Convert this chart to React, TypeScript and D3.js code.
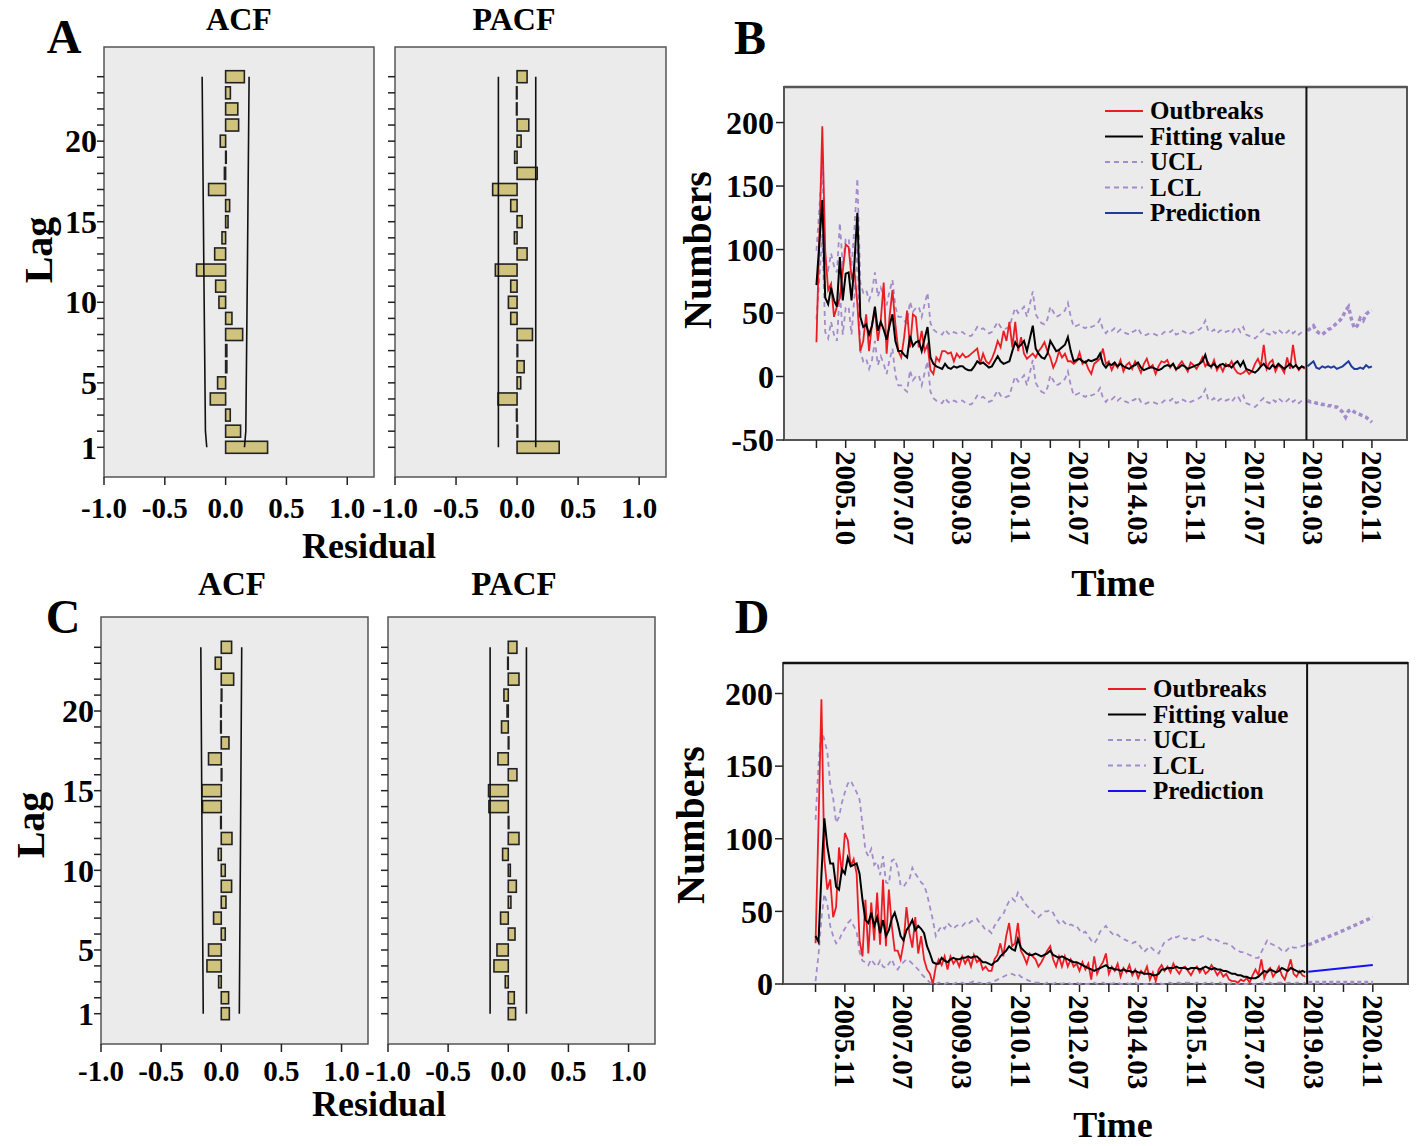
import React from "react";
import * as d3 from "d3";

const FONT = "'Liberation Serif','Times New Roman',serif";

// ---------------- ACF / PACF data (lag 1..24) ----------------
const lags = [1, 2, 3, 4, 5, 6, 7, 8, 9, 10, 11, 12, 13, 14, 15, 16, 17, 18, 19, 20, 21, 22, 23, 24];
const lagLabels = [1, 5, 10, 15, 20];
const residTicks = [-1, -0.5, 0, 0.5, 1];

const acfA = [0.345, 0.123, 0.038, -0.126, -0.066, 0.01, 0.01, 0.14, 0.052, -0.055, -0.082, -0.239, -0.09, -0.03, 0.02, 0.033, -0.14, -0.01, 0.005, -0.044, 0.107, 0.1, 0.039, 0.154];
const pacfA = [0.345, 0.005, -0.005, -0.156, 0.03, 0.058, 0.005, 0.126, -0.052, -0.071, -0.052, -0.178, 0.082, -0.022, 0.041, -0.052, -0.2, 0.165, -0.02, 0.033, 0.096, -0.005, -0.005, 0.082];
const acfC = [0.067, 0.061, -0.022, -0.119, -0.106, 0.033, -0.064, 0.039, 0.086, 0.033, -0.025, 0.089, -0.005, -0.156, -0.161, 0.005, -0.106, 0.064, -0.005, -0.005, 0.005, 0.103, -0.05, 0.086];
const pacfC = [0.061, 0.05, -0.025, -0.119, -0.094, 0.056, -0.064, 0.022, 0.067, 0.017, -0.047, 0.089, 0.005, -0.161, -0.164, 0.072, -0.086, 0.005, -0.056, -0.01, -0.036, 0.089, -0.005, 0.072];

const acfBoundLagsA = [1, 2, 12, 24];
const acfBoundA = [0.155, 0.166, 0.179, 0.193];
const pacfBoundLagsA = [1, 24];
const pacfBoundA = [0.153, 0.153];
const acfBoundLagsC = [1, 12, 24];
const acfBoundC = [0.15, 0.16, 0.17];
const pacfBoundLagsC = [1, 24];
const pacfBoundC = [0.151, 0.151];

// ---------------- Time series (month index 0 = 2005.01) ----------------
const obsIdx = d3.range(0, 168);
const fcIdxB = d3.range(168, 191);
const xTickIdx = d3.range(0, 200, 10);
const xLabelIdx = [10, 30, 50, 70, 90, 110, 130, 150, 170, 190];
const xLabelsB = ["2005.10", "2007.07", "2009.03", "2010.11", "2012.07", "2014.03", "2015.11", "2017.07", "2019.03", "2020.11"];
const xLabelsD = ["2005.11", "2007.07", "2009.03", "2010.11", "2012.07", "2014.03", "2015.11", "2017.07", "2019.03", "2020.11"];
const yTicksB = [-50, 0, 50, 100, 150, 200];
const yTicksD = [0, 50, 100, 150, 200];
const sepIdx = 167.6;

const bObs = [27,110,197,99,68,73,47,55,62,83,104,102,78,83,57,20,28,49,20,41,52,28,44,74,18,47,68,41,20,15,31,52,23,49,47,23,36,20,25,5,
  2,15,12,20,20,18,19,12,18,15,18,15,16,18,20,22,10,18,12,10,
  14,20,28,23,36,28,43,23,43,20,
  31,18,14,16,18,15,20,23,27,20,15,7,12,20,15,18,12,12,10,12,19,10,12,6,2,10,12,14,22,10,
  12,5,10,7,13,4,9,11,6,12,8,3,10,14,7,9,2,8,12,11,13,7,10,5,9,12,8,4,11,9,6,10,15,8,11,7,13,5,9,4,10,8,12,6,3,2,3,5,2,4,
  10,14,8,25,6,11,13,4,9,7,3,15,6,25,9,5,8,6];
const bFit = [72,105,139,62,57,70,60,55,94,60,81,82,60,90,129,47,39,41,33,40,55,36,43,37,29,40,49,28,20,20,17,15,32,24,27,28,20,30,39,15,
  10,8,7,6,10,7,6,8,7,8,8,6,5,5,8,12,10,11,9,7,
  8,12,16,12,10,11,12,20,27,23,25,28,20,30,40,22,18,15,14,18,28,24,20,21,23,25,31,20,12,13,14,12,11,13,12,13,14,18,10,7,
  10,9,11,8,10,8,7,6,8,9,11,7,5,6,7,7,6,5,6,8,9,8,10,6,7,9,8,6,7,8,9,10,12,17,9,8,10,7,9,10,8,9,7,10,12,8,12,6,5,4,3,5,8,10,7,6,9,7,10,8,6,8,10,7,9,6,8,7];
const bUcl = [99,132,166,89,84,97,87,82,121,87,108,109,87,117,156,74,66,68,60,67,82,63,70,64,56,67,76,55,47,47,44,42,59,51,54,55,47,57,66,42,
  37,35,34,33,37,34,33,35,34,35,35,33,32,32,35,39,37,38,36,34,
  35,39,43,39,37,38,39,47,54,50,52,55,47,57,67,49,45,42,41,45,55,51,47,48,50,52,58,47,39,40,41,39,38,40,39,40,41,45,37,34,
  37,36,38,35,37,35,34,33,35,36,38,34,32,33,34,34,33,32,33,35,36,35,37,33,34,36,35,33,34,35,36,37,39,44,36,35,37,34,36,37,35,36,34,37,39,35,39,33,32,31,30,32,35,37,34,33,36,34,37,35,33,35,37,34,36,33,35,34];
const bLcl = [45,78,112,35,30,43,33,28,67,33,54,55,33,63,102,20,12,14,6,13,28,9,16,10,2,13,22,1,-7,-7,-10,-12,5,-3,0,1,-7,3,12,-12,
  -17,-19,-20,-21,-17,-20,-21,-19,-20,-19,-19,-21,-22,-22,-19,-15,-17,-16,-18,-20,
  -19,-15,-11,-15,-17,-16,-15,-7,0,-4,-2,1,-7,3,13,-5,-9,-12,-13,-9,1,-3,-7,-6,-4,-2,4,-7,-15,-14,-13,-15,-16,-14,-15,-14,-13,-9,-17,-20,
  -17,-18,-16,-19,-17,-19,-20,-21,-19,-18,-16,-20,-22,-21,-20,-20,-21,-22,-21,-19,-18,-19,-17,-21,-20,-18,-19,-21,-20,-19,-18,-17,-15,-10,-18,-19,-17,-20,-18,-17,-19,-18,-20,-17,-15,-19,-15,-21,-22,-23,-24,-22,-19,-17,-20,-21,-18,-20,-17,-19,-21,-19,-17,-20,-18,-21,-19,-20];
const bPred = [8,10,12,7,6,8,7,8,7,8,6,7,8,10,12,8,6,6,7,6,9,7,8];
const bUclF = [36,38,40,36,34,33,35,37,38,40,42,44,47,52,55,45,38,40,46,44,49,51,52];
const bLclF = [-19,-20,-20,-21,-21,-22,-22,-23,-23,-24,-24,-26,-28,-32,-27,-26,-28,-29,-30,-31,-32,-34,-36];

const dObs = [28,110,196,86,65,72,46,53,94,76,104,99,81,86,76,30,19,58,21,56,30,63,27,72,26,65,40,23,23,17,28,53,35,25,46,21,33,17,10,7,
  0,12,17,13,19,10,19,14,17,12,19,14,18,12,20,15,17,10,12,9,
  9,17,20,28,19,33,42,26,28,42,23,19,14,21,19,17,12,15,19,23,26,17,12,19,12,19,12,17,12,14,9,15,10,14,3,19,7,12,15,21,
  7,12,9,14,5,11,8,13,6,10,4,9,7,12,3,8,2,10,13,9,12,8,14,10,7,11,12,9,6,10,12,8,11,7,9,13,10,6,9,5,7,3,2,2,1,3,2,4,1,6,
  10,6,17,4,9,11,5,8,12,6,3,10,17,7,5,9,6,5];
const dFit = [33,29,75,114,95,83,83,67,65,79,76,87,81,82,83,76,58,44,42,49,40,46,35,44,33,37,45,49,42,33,30,37,40,44,37,40,38,35,26,21,
  15,14,14,18,16,15,17,18,17,17,18,18,19,18,19,19,17,15,15,14,13,15,16,19,21,23,26,24,23,31,25,23,21,20,20,21,20,19,20,21,23,20,19,18,19,18,17,16,15,15,14,13,12,11,10,9,10,11,12,13,
  11,11,10,10,9,10,9,9,8,9,8,8,7,7,7,6,6,7,10,10,11,11,11,12,11,11,11,10,11,11,11,10,11,12,11,10,11,10,10,9,9,8,7,7,6,6,5,5,4,4,4,5,7,9,8,10,9,8,9,11,10,9,11,10,9,8,9,8];
const dUcl = [113,150,176,168,160,138,128,111,115,125,132,138,140,136,132,127,110,92,88,93,82,84,75,88,70,69,85,86,80,68,67,70,72,80,76,73,70,68,62,53,
  44,33,37,40,38,42,40,38,40,41,40,42,41,43,44,45,42,40,37,37,35,40,43,46,48,53,57,59,57,63,60,57,54,52,50,48,46,48,50,50,51,49,45,42,44,42,40,41,40,40,37,35,36,33,30,28,31,36,38,40,
  37,35,33,34,32,31,30,29,28,29,28,25,22,24,26,24,22,21,25,29,30,31,33,32,33,32,31,32,31,30,31,32,33,33,31,30,31,30,29,28,28,27,26,24,23,22,22,21,20,19,18,18,22,26,30,28,27,26,25,23,22,24,26,25,25,26,26,27];
const dLcl = [2,20,45,62,55,40,33,28,30,35,38,42,44,40,36,22,16,15,13,17,14,12,16,12,11,14,17,12,10,13,15,17,16,14,12,10,7,5,3,1,
  0,0,1,1,0,1,1,0,1,1,1,0,1,1,2,1,1,0,0,1,1,2,3,4,5,6,7,7,6,7,5,4,3,2,2,1,1,1,0,1,1,0,1,1,0,1,1,0,0,1,0,1,0,0,1,1,0,1,1,0,
  1,0,1,1,0,0,1,0,1,1,0,1,0,0,1,0,1,1,0,0,1,1,0,1,1,0,1,1,1,0,1,1,0,1,1,1,0,1,1,0,1,0,1,0,0,1,0,0,1,0,0,1,1,0,1,1,0,1,1,1,0,1,1,0,1,1,0,1];
const dPredIdx = [168, 190];
const dPred = [8.5, 13];
const dUclFIdx = [168, 179, 190];
const dUclF = [27, 36, 46];
const dLclFIdx = [168, 190];
const dLclF = [1, 1];

const RED = "#ec1c24";
const PURPLE = "#a48ccb";
const BAR_FILL = "#cfc37e";

type CorrProps = {
  x0: number; x1: number; y0: number; y1: number; lagLo: number; lagHi: number;
  values: number[]; bLags: number[]; bVals: number[]; showLagLabels: boolean; labelDy: number;
};

const fmtResid = (t: number) => t.toFixed(1);

function Corr({ x0, x1, y0, y1, lagLo, lagHi, values, bLags, bVals, showLagLabels, labelDy }: CorrProps) {
  const x = d3.scaleLinear().domain([-1, 1.22]).range([x0, x1]);
  const y = d3.scaleLinear().domain([1, 24]).range([lagLo, lagHi]);
  const line = d3.line<[number, number]>().x((d) => x(d[1])).y((d) => y(d[0]));
  const upper = bLags.map((l, i) => [l, bVals[i]] as [number, number]);
  const lower = bLags.map((l, i) => [l, -bVals[i]] as [number, number]);
  const bh = 12;
  return (
    <g>
      <rect x={x0} y={y0} width={x1 - x0} height={y1 - y0} fill="#ebebeb" stroke="#555" strokeWidth={1.5} />
      {lags.map((l) => (
        <line key={"lt" + l} x1={x0 - 7} x2={x0} y1={y(l)} y2={y(l)} stroke="#222" strokeWidth={1.5} />
      ))}
      {showLagLabels &&
        lagLabels.map((l) => (
          <text key={"ll" + l} x={x0 - 7} y={y(l)} dy="0.35em" textAnchor="end" fontSize={32}>
            {l}
          </text>
        ))}
      {residTicks.map((t) => (
        <line key={"xt" + t} x1={x(t)} x2={x(t)} y1={y1} y2={y1 + 8} stroke="#222" strokeWidth={1.5} />
      ))}
      {residTicks.map((t) => (
        <text key={"xl" + t} x={x(t)} y={y1 + labelDy} textAnchor="middle" fontSize={29}>
          {fmtResid(t)}
        </text>
      ))}
      {values.map((v, i) => (
        <rect
          key={"b" + i}
          x={Math.min(x(0), x(v))}
          y={y(lags[i]) - bh / 2}
          width={Math.abs(x(v) - x(0))}
          height={bh}
          fill={BAR_FILL}
          stroke="#222"
          strokeWidth={1.6}
        />
      ))}
      <path d={line(upper) || ""} fill="none" stroke="#111" strokeWidth={1.6} />
      <path d={line(lower) || ""} fill="none" stroke="#111" strokeWidth={1.6} />
    </g>
  );
}

type Series = { idx: number[]; val: number[] };
type TimeProps = {
  x0: number; x1: number; y0: number; y1: number; yDom: [number, number]; yTicks: number[];
  obs: Series; fit: Series; ucl: Series; lcl: Series; pred: Series; uclF: Series; lclF: Series;
  xLabels: string[]; predColor: string; legX: number; legY: number; borderTop: string;
};

function TimePanel(p: TimeProps) {
  const x = d3.scaleLinear().domain([-11.1, 202]).range([p.x0, p.x1]);
  const y = d3.scaleLinear().domain(p.yDom).range([p.y1, p.y0]);
  const path = (s: Series) =>
    d3.line<number>().x((_, i) => x(s.idx[i])).y((d) => y(d))(s.val) || "";
  const legend = [
    { label: "Outbreaks", color: RED, dash: undefined as string | undefined },
    { label: "Fitting value", color: "#000", dash: undefined },
    { label: "UCL", color: PURPLE, dash: "5,4" },
    { label: "LCL", color: PURPLE, dash: "5,4" },
    { label: "Prediction", color: p.predColor, dash: undefined },
  ];
  return (
    <g>
      <rect x={p.x0} y={p.y0} width={p.x1 - p.x0} height={p.y1 - p.y0} fill="#ebebeb" stroke="#555" strokeWidth={2} />
      <line x1={p.x0} x2={p.x1} y1={p.y0} y2={p.y0} stroke={p.borderTop} strokeWidth={2.5} />
      {p.yTicks.map((t) => (
        <g key={"yt" + t}>
          <line x1={p.x0 - 8} x2={p.x0} y1={y(t)} y2={y(t)} stroke="#222" strokeWidth={1.5} />
          <text x={p.x0 - 10} y={y(t)} dy="0.35em" textAnchor="end" fontSize={32}>
            {t}
          </text>
        </g>
      ))}
      {xTickIdx.map((t) => (
        <line key={"xt" + t} x1={x(t)} x2={x(t)} y1={p.y1} y2={p.y1 + 8} stroke="#222" strokeWidth={1.5} />
      ))}
      {xLabelIdx.map((t, i) => (
        <text
          key={"xl" + t}
          transform={`translate(${x(t)},${p.y1 + 11}) rotate(90)`}
          dy="0.35em"
          textAnchor="start"
          fontSize={29}
        >
          {p.xLabels[i]}
        </text>
      ))}
      <path d={path(p.ucl)} fill="none" stroke={PURPLE} strokeWidth={1.8} strokeDasharray="5,4" />
      <path d={path(p.lcl)} fill="none" stroke={PURPLE} strokeWidth={1.8} strokeDasharray="5,4" />
      <path d={path(p.uclF)} fill="none" stroke={PURPLE} strokeWidth={3.5} strokeDasharray="4,3" />
      <path d={path(p.lclF)} fill="none" stroke={PURPLE} strokeWidth={3.5} strokeDasharray="4,3" />
      <path d={path(p.obs)} fill="none" stroke={RED} strokeWidth={1.8} />
      <path d={path(p.fit)} fill="none" stroke="#000" strokeWidth={2} />
      <path d={path(p.pred)} fill="none" stroke={p.predColor} strokeWidth={2} />
      <line x1={x(sepIdx)} x2={x(sepIdx)} y1={p.y0} y2={p.y1} stroke="#111" strokeWidth={2} />
      {legend.map((l, i) => (
        <g key={l.label}>
          <line
            x1={p.legX}
            x2={p.legX + 38}
            y1={p.legY + i * 25.5}
            y2={p.legY + i * 25.5}
            stroke={l.color}
            strokeWidth={2.2}
            strokeDasharray={l.dash}
          />
          <text x={p.legX + 45} y={p.legY + i * 25.5} dy="0.33em" fontSize={25}>
            {l.label}
          </text>
        </g>
      ))}
    </g>
  );
}

export default function App() {
  return (
    <svg
      width={1416}
      height={1146}
      style={{ position: "absolute", left: 0, top: 0, display: "block" }}
      fontFamily={FONT}
      fontWeight="bold"
    >
      <rect width={1416} height={1146} fill="#fff" />

      {/* Panel A */}
      <text x={64} y={53} fontSize={48} textAnchor="middle">A</text>
      <text x={239} y={30} fontSize={32} textAnchor="middle">ACF</text>
      <text x={514} y={30} fontSize={32} textAnchor="middle">PACF</text>
      <Corr x0={104} x1={374} y0={47} y1={477} lagLo={447.3} lagHi={76.7} values={acfA} bLags={acfBoundLagsA} bVals={acfBoundA} showLagLabels={true} labelDy={41} />
      <Corr x0={395} x1={666} y0={47} y1={477} lagLo={447.3} lagHi={76.7} values={pacfA} bLags={pacfBoundLagsA} bVals={pacfBoundA} showLagLabels={false} labelDy={41} />
      <text transform="translate(38,250) rotate(-90)" dy="0.35em" textAnchor="middle" fontSize={40}>Lag</text>
      <text x={369} y={558} textAnchor="middle" fontSize={36}>Residual</text>

      {/* Panel C */}
      <text x={63} y={633} fontSize={48} textAnchor="middle">C</text>
      <text x={232} y={595} fontSize={33} textAnchor="middle">ACF</text>
      <text x={514} y={595} fontSize={33} textAnchor="middle">PACF</text>
      <Corr x0={101} x1={368} y0={617} y1={1044} lagLo={1013.7} lagHi={647.3} values={acfC} bLags={acfBoundLagsC} bVals={acfBoundC} showLagLabels={true} labelDy={37} />
      <Corr x0={388} x1={655} y0={617} y1={1044} lagLo={1013.7} lagHi={647.3} values={pacfC} bLags={pacfBoundLagsC} bVals={pacfBoundC} showLagLabels={false} labelDy={37} />
      <text transform="translate(30,825) rotate(-90)" dy="0.35em" textAnchor="middle" fontSize={40}>Lag</text>
      <text x={379} y={1116} textAnchor="middle" fontSize={36}>Residual</text>

      {/* Panel B */}
      <text x={750} y={54} fontSize={48} textAnchor="middle">B</text>
      <TimePanel
        x0={784} x1={1407} y0={87} y1={440} yDom={[-50, 228]} yTicks={yTicksB}
        obs={{ idx: obsIdx, val: bObs }} fit={{ idx: obsIdx, val: bFit }}
        ucl={{ idx: obsIdx, val: bUcl }} lcl={{ idx: obsIdx, val: bLcl }}
        pred={{ idx: fcIdxB, val: bPred }} uclF={{ idx: fcIdxB, val: bUclF }} lclF={{ idx: fcIdxB, val: bLclF }}
        xLabels={xLabelsB} predColor="#1f3c9a" legX={1105} legY={111} borderTop="#555"
      />
      <text transform="translate(697,250) rotate(-90)" dy="0.35em" textAnchor="middle" fontSize={40}>Numbers</text>
      <text x={1113} y={596} textAnchor="middle" fontSize={38}>Time</text>

      {/* Panel D */}
      <text x={752} y={633} fontSize={48} textAnchor="middle">D</text>
      <TimePanel
        x0={783} x1={1408} y0={663} y1={984} yDom={[0, 221]} yTicks={yTicksD}
        obs={{ idx: obsIdx, val: dObs }} fit={{ idx: obsIdx, val: dFit }}
        ucl={{ idx: obsIdx, val: dUcl }} lcl={{ idx: obsIdx, val: dLcl }}
        pred={{ idx: dPredIdx, val: dPred }} uclF={{ idx: dUclFIdx, val: dUclF }} lclF={{ idx: dLclFIdx, val: dLclF }}
        xLabels={xLabelsD} predColor="#1414f0" legX={1108} legY={689} borderTop="#111"
      />
      <text transform="translate(690,825) rotate(-90)" dy="0.35em" textAnchor="middle" fontSize={40}>Numbers</text>
      <text x={1113} y={1137} textAnchor="middle" fontSize={36}>Time</text>
    </svg>
  );
}
